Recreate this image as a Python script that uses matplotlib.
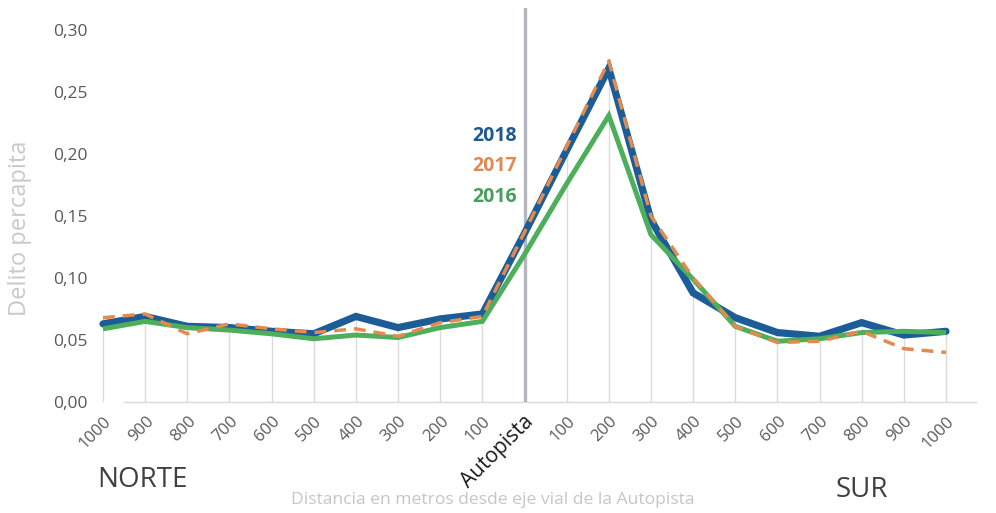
import numpy as np
import matplotlib
matplotlib.use("Agg")
import matplotlib.pyplot as plt
import matplotlib.transforms as mtransforms

plt.rcParams['font.family'] = ['Open Sans', 'DejaVu Sans']

# Data: distance categories (north -> highway -> south) and crime per capita
labels = ["1000", "900", "800", "700", "600", "500", "400", "300", "200", "100",
          "Autopista",
          "100", "200", "300", "400", "500", "600", "700", "800", "900", "1000"]
s2018 = [0.063, 0.069, 0.061, 0.060, 0.057, 0.055, 0.069, 0.060, 0.067, 0.071,
         0.136, 0.203, 0.269, 0.147, 0.088, 0.068, 0.056, 0.053, 0.064, 0.054, 0.057]
s2017 = [0.068, 0.071, 0.055, 0.063, 0.059, 0.056, 0.059, 0.053, 0.064, 0.069,
         0.137, 0.206, 0.275, 0.150, 0.100, 0.061, 0.048, 0.049, 0.057, 0.043, 0.040]
s2016 = [0.059, 0.065, 0.060, 0.058, 0.055, 0.051, 0.054, 0.052, 0.060, 0.065,
         0.119, 0.176, 0.231, 0.135, 0.099, 0.061, 0.049, 0.051, 0.056, 0.057, 0.056]
yticks = [0.0, 0.05, 0.10, 0.15, 0.20, 0.25, 0.30]

blue = "#1c5d98"
orange = "#e38a4e"
green = "#4dae5c"

x = np.arange(len(labels))
hw = labels.index("Autopista")

fig = plt.figure(figsize=(9.96, 5.13), dpi=100)
ax = fig.add_axes([0.0, 0.0, 1.0, 1.0])
# place axes so that x=0 -> 103px, x=20 -> 946px, y=0 -> 402px, y=0.30 -> 30px
px = (946 - 103) / 20
x0, x1 = -0.2, 20.7
left = 103 + x0 * px
right = 103 + x1 * px
ytop = (402 - 8) / 1240
ax.set_position([left / 996, (513 - 402) / 513, (right - left) / 996, (402 - 8) / 513])
ax.set_xlim(x0, x1)
ax.set_ylim(0, ytop)

# drop lines from the highest series down to the axis
tops = np.max([s2018, s2017, s2016], axis=0)
for i in x:
    if i != hw:
        ax.vlines(i, 0, tops[i], color="#dcdcdc", lw=1, zorder=1)

# horizontal axis line
ax.plot([0.5, 20.7], [0, 0], color="#d9d9d9", lw=1, zorder=1, clip_on=False)

# highway marker
ax.axvline(hw, color="#b5b5bd", lw=2.4, zorder=2)

ax.plot(x, s2018, color=blue, lw=5.2, solid_capstyle="round", solid_joinstyle="miter", zorder=3)
ax.plot(x, s2016, color=green, lw=3.6, solid_capstyle="butt", solid_joinstyle="miter", zorder=4)
ax.plot(x, s2017, color=orange, lw=2.5, dashes=(3.4, 2.3), zorder=5)

for s in ax.spines.values():
    s.set_visible(False)

ax.set_yticks(yticks)
ax.set_yticklabels([f"{v:.2f}".replace(".", ",") for v in yticks], fontsize=12.5, color="#595959")
ax.tick_params(axis="y", length=0, pad=5)

ax.set_xticks(x)
ax.set_xticklabels(labels, rotation=45, ha="right", va="center", rotation_mode="anchor",
                   fontsize=12, color="#595959")
ax.tick_params(axis="x", length=0, pad=12)
offset = mtransforms.ScaledTranslation(6 / 100, 0, fig.dpi_scale_trans)
for i, lab in enumerate(ax.get_xticklabels()):
    lab.set_transform(lab.get_transform() + offset)
    if i == hw:
        lab.set_fontsize(15)
        lab.set_color("#1a1a1a")

fig.text(20 / 996, 1 - 228 / 513, "Delito percapita", rotation=90, fontsize=17,
         color="#c9c9c9", ha="center", va="center")
fig.text(493 / 996, 1 - 500 / 513, "Distancia en metros desde eje vial de la Autopista",
         fontsize=12.6, color="#c6c6c6", ha="center", va="center")
fig.text(142 / 996, 1 - 480 / 513, "NORTE", fontsize=20, color="#404040", ha="center", va="center")
fig.text(862 / 996, 1 - 490 / 513, "SUR", fontsize=20, color="#404040", ha="center", va="center")

for txt, col, yy in [("2018", "#1f5a8c", 136), ("2017", "#e08a52", 166), ("2016", "#4a9e5c", 197)]:
    fig.text(517 / 996, 1 - yy / 513, txt, fontsize=14, fontweight="bold", color=col,
             ha="right", va="center")

fig.savefig("out.png", dpi=100)
